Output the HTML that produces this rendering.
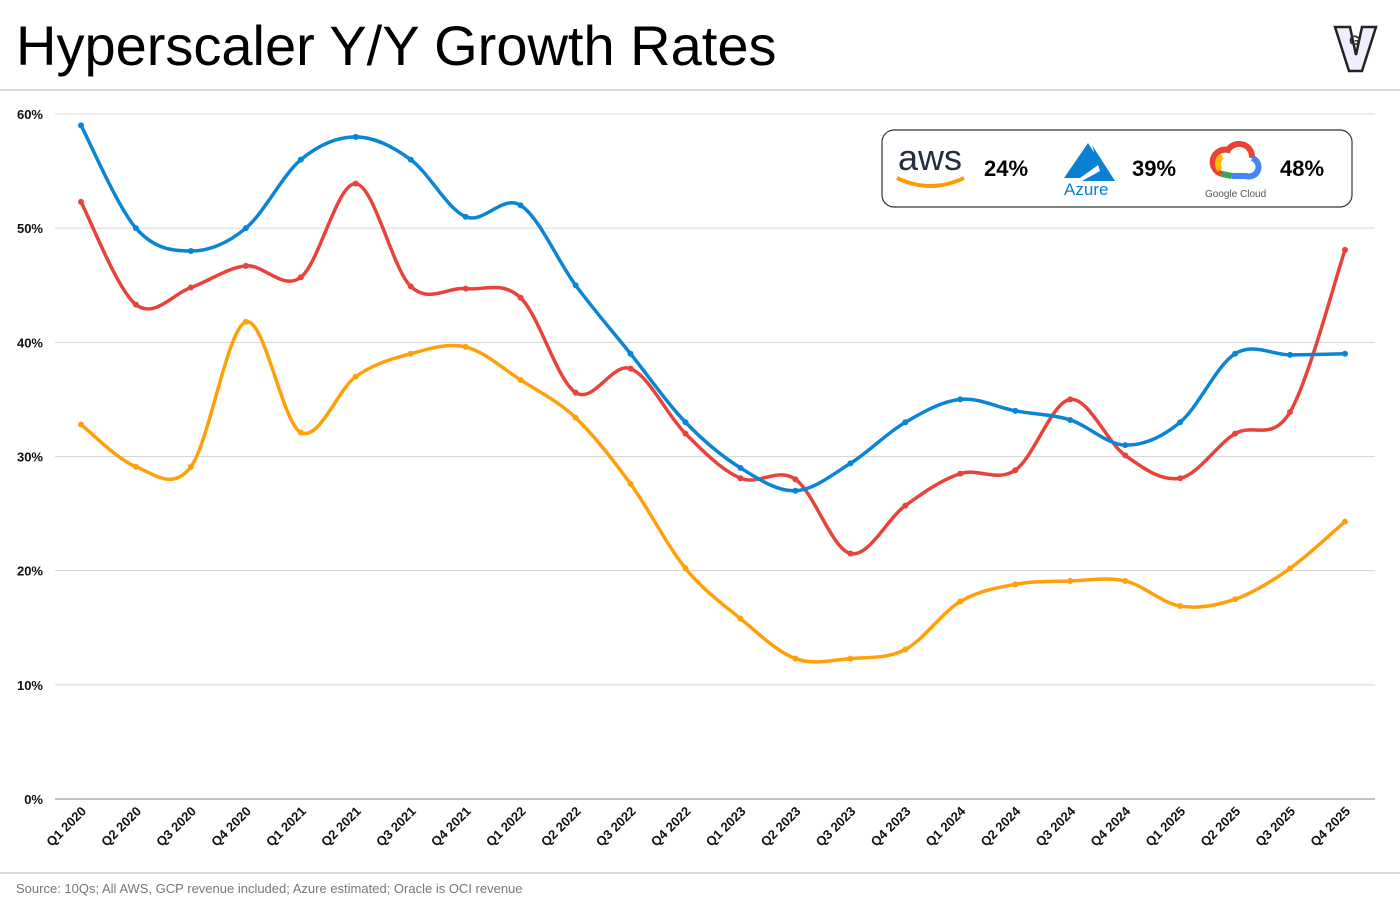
<!DOCTYPE html>
<html><head><meta charset="utf-8"><style>
body{margin:0;width:1400px;height:900px;background:#fff;font-family:"Liberation Sans",sans-serif;overflow:hidden;position:relative}
#title{position:absolute;left:16px;top:13px;font-size:56px;color:#000;letter-spacing:0px}
</style></head><body>
<div id="title">Hyperscaler Y/Y Growth Rates</div>
<svg id="chart" width="1400" height="900" style="position:absolute;left:0;top:0">
<line x1="0" y1="90" x2="1400" y2="90" stroke="#ccc" stroke-width="1.5"/>
<line x1="0" y1="873" x2="1400" y2="873" stroke="#ccc" stroke-width="1.5"/>
<g id="grid"></g><g id="series"></g><g id="xlabels"></g>
<g>
<rect x="882" y="130" width="470" height="77" rx="12" fill="#fff" stroke="#333" stroke-width="1.2"/>
<g>
<text x="898" y="170" font-size="36" fill="#232f3e" font-family="Liberation Sans">aws</text>
<path d="M897 178 Q930 194 964 178" stroke="#f90" stroke-width="4" fill="none"/>
<text x="984" y="176" font-size="22" font-weight="bold" fill="#000">24%</text></g>
<g>
<path d="M1064 178 L1088 143 L1101 163 L1080 178 Z M1092 145 L1115 181 L1082 181 L1100 171 Z" fill="#0a7fd4"/>
<text x="1064" y="195" font-size="17" fill="#0a7fd4">Azure</text>
<text x="1132" y="176" font-size="22" font-weight="bold" fill="#000">39%</text></g>
<g>
<path d="M1222 174 A12 12 0 0 1 1228 150 A13 13 0 0 1 1252 158" stroke="#ea4335" stroke-width="6" fill="none"/>
<path d="M1252 158 A9 9 0 0 1 1246 176 L1232 176" stroke="#4285f4" stroke-width="6" fill="none"/>
<path d="M1222 174 L1232 176" stroke="#34a853" stroke-width="6"/>
<path d="M1220 170 A10 10 0 0 1 1222 156" stroke="#fbbc05" stroke-width="6" fill="none"/>
<text x="1205" y="197" font-size="10" fill="#555">Google Cloud</text>
<text x="1280" y="176" font-size="22" font-weight="bold" fill="#000">48%</text></g>
</g>
<g>
<path d="M1335 27 L1350 27 L1356 55 L1362 27 L1376 27 L1362 71 L1349 71 Z" fill="#eef" stroke="#222" stroke-width="2.5"/>
<text x="1349" y="45" font-size="14" font-weight="bold" fill="#333">G</text></g>
<text x="16" y="893" font-size="13" fill="#777">Source: 10Qs; All AWS, GCP revenue included; Azure estimated; Oracle is OCI revenue</text>
</svg>
<script>
const categories=["Q1 2020","Q2 2020","Q3 2020","Q4 2020","Q1 2021","Q2 2021","Q3 2021","Q4 2021","Q1 2022","Q2 2022","Q3 2022","Q4 2022","Q1 2023","Q2 2023","Q3 2023","Q4 2023","Q1 2024","Q2 2024","Q3 2024","Q4 2024","Q1 2025","Q2 2025","Q3 2025","Q4 2025"];
const azure=[59,50,48,50,56,58,56,51,52,45,39,33,29,27,29.4,33,35,34,33.2,31,33,39,38.9,39];
const gcp=[52.3,43.3,44.8,46.7,45.7,53.9,44.9,44.7,43.9,35.6,37.7,32,28.1,28,21.5,25.7,28.5,28.8,35,30.1,28.1,32,33.9,48.1];
const aws=[32.8,29.1,29.1,41.8,32.1,37,39,39.6,36.7,33.4,27.6,20.2,15.8,12.3,12.3,13.1,17.3,18.8,19.1,19.1,16.9,17.5,20.2,24.3];
const yTicks=[0,10,20,30,40,50,60];
const NS="http://www.w3.org/2000/svg";
const x=i=>81+i*(1345-81)/(categories.length-1);
const y=v=>799-v*(799-114)/60;
function mk(t,a,p){const e=document.createElementNS(NS,t);for(const k in a)e.setAttribute(k,a[k]);p.appendChild(e);return e;}
const grid=document.getElementById('grid');
yTicks.forEach(t=>{
 const l=mk('line',{x1:55,x2:1375,y1:y(t),y2:y(t),stroke:t===0?'#888':'#d6d6d6','stroke-width':1},grid);
 
 
 const tx=mk('text',{x:43,y:y(t)+5,'text-anchor':'end','font-size':13,'font-weight':'bold',fill:'#111'},grid);
 tx.textContent=t+'%';
 
 
});
const xl=document.getElementById('xlabels');
categories.forEach((c,i)=>{
 const t=mk('text',{x:x(i)+6,y:812,'text-anchor':'end','font-size':13,'font-weight':'bold',fill:'#111',transform:`rotate(-45 ${x(i)+6} 812)`},xl);
 t.textContent=c;
 
 
});
function path(vals){
 const p=vals.map((v,i)=>[x(i),y(v)]);let d=`M${p[0][0]},${p[0][1]}`;
 for(let i=0;i<p.length-1;i++){const p0=p[Math.max(i-1,0)],p1=p[i],p2=p[i+1],p3=p[Math.min(i+2,p.length-1)];
 d+=` C${p1[0]+(p2[0]-p0[0])/6},${p1[1]+(p2[1]-p0[1])/6} ${p2[0]-(p3[0]-p1[0])/6},${p2[1]-(p3[1]-p1[1])/6} ${p2[0]},${p2[1]}`;}
 return d;}
const sg=document.getElementById('series');
[[aws,'#ffa00a','aws'],[gcp,'#e8423a','gcp'],[azure,'#0a85d4','azure']].forEach(([vals,col,n])=>{
 const g=mk('g',{},sg);
 
 
 mk('path',{d:path(vals),fill:'none',stroke:col,'stroke-width':3.5},g);
 vals.forEach((v,i)=>{const c=mk('circle',{cx:x(i),cy:y(v),r:3,fill:col},g);
 
 });
});
</script>
</body></html>
